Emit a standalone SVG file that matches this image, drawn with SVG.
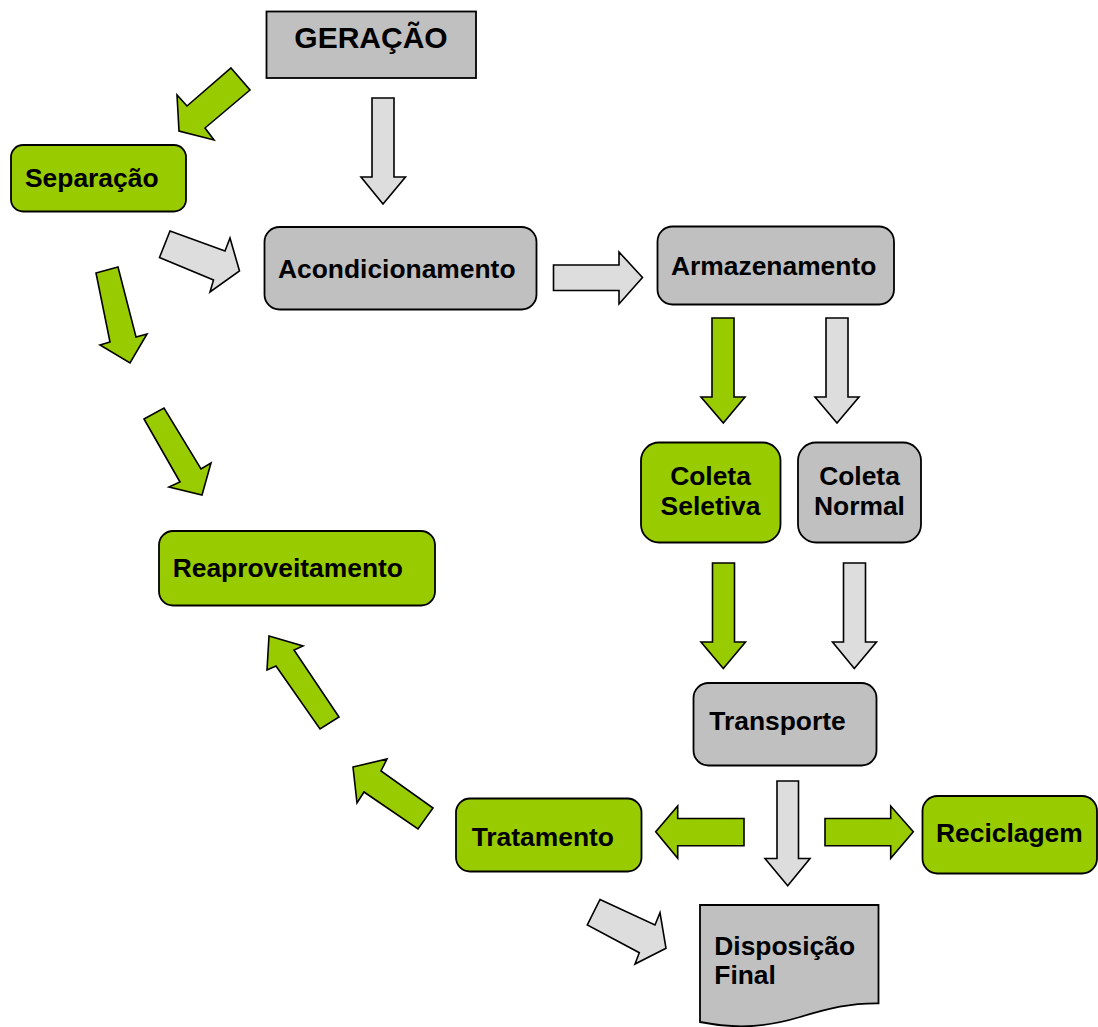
<svg xmlns="http://www.w3.org/2000/svg" width="1098" height="1027" viewBox="0 0 1098 1027">
<style>
.g{fill:#99cc00;stroke:#000;stroke-width:1.8}
.n{fill:#c0c0c0;stroke:#000;stroke-width:1.8}
.ag{fill:#99cc00;stroke:#000;stroke-width:1.6;stroke-linejoin:miter}
.aw{fill:#dddddd;stroke:#000;stroke-width:1.6;stroke-linejoin:miter}
text{font-family:"Liberation Sans",Arial,sans-serif;font-weight:bold;font-size:26.4px;fill:#000}
</style>
<rect width="1098" height="1027" fill="#fff"/>
<g id="connectors">
<polygon class="ag" points="231,68 250,90 205,128 214,140 179,131 177,95 187,106"/>
<polygon class="aw" points="372,98 394,98 394,177 405.5,177 383,204 361,177 372,177"/>
<polygon class="aw" points="170,231 225,251 230,238 239.5,271 210,292 213.5,280 159.5,257.5"/>
<polygon class="ag" points="96,273 118,267 136,337 147,334 130,363 100,345 110,342"/>
<polygon class="ag" points="144,419 164,408 201,469 211,463 202,495 169,487 180,482"/>
<polygon class="aw" points="553.5,265 619,265 619,252 642.5,277.5 619,304 619,290.5 553.5,290.5"/>
<polygon class="ag" points="712,318 734,318 734,397 745,397 723.3,423 701,397 712,397"/>
<polygon class="aw" points="826,318 848,318 848,397 859,397 837,423 815,397 826,397"/>
<polygon class="ag" points="712.5,563 734.5,563 734.5,642 745.5,642 723.3,668.5 701,642 712.5,642"/>
<polygon class="aw" points="843.5,563 865.5,563 865.5,642 876.5,642 854.3,668.5 832.5,642 843.5,642"/>
<polygon class="aw" points="777,781 798.5,781 798.5,858.5 810,858.5 787.7,885.7 765,858.5 777,858.5"/>
<polygon class="ag" points="744,818.5 677.7,818.5 677.7,806 655.7,831.7 677.7,858.3 677.7,845.7 744,845.7"/>
<polygon class="ag" points="825,818.5 890.7,818.5 890.7,806 913.3,831.7 890.7,858.3 890.7,845.7 825,845.7"/>
<polygon class="ag" points="269,636 303,646 294,650 339,717 320,729 276,666 267,670"/>
<polygon class="ag" points="353,767 387,759 381,771 433,808 418,829 364,792 357,803"/>
<polygon class="aw" points="600,899.5 655,925 660,912.7 666,948.3 635,964 639.3,952.7 587.3,925"/>
</g>
<g id="geracao">
<rect class="n" x="266.5" y="11.5" width="209.5" height="66.5"/>
<text x="371" y="48" text-anchor="middle" style="font-size:30px">GERAÇÃO</text>
</g>
<g id="separacao">
<rect class="g" x="11" y="145" width="175" height="66.5" rx="12"/>
<text x="25" y="186.7">Separação</text>
</g>
<g id="acondicionamento">
<rect class="n" x="264.5" y="227" width="272" height="82.5" rx="15"/>
<text x="278" y="277.7">Acondicionamento</text>
</g>
<g id="armazenamento">
<rect class="n" x="657.5" y="226.5" width="236.5" height="78" rx="15"/>
<text x="671" y="275">Armazenamento</text>
</g>
<g id="coleta-seletiva">
<rect class="g" x="641" y="442.5" width="139.5" height="100" rx="18"/>
<text x="710.5" y="485" text-anchor="middle">Coleta</text>
<text x="710.5" y="515" text-anchor="middle">Seletiva</text>
</g>
<g id="coleta-normal">
<rect class="n" x="798" y="442.5" width="123" height="100" rx="18"/>
<text x="859.5" y="485" text-anchor="middle">Coleta</text>
<text x="859.5" y="515" text-anchor="middle">Normal</text>
</g>
<g id="reaproveitamento">
<rect class="g" x="159" y="531" width="276" height="74.5" rx="14"/>
<text x="172.7" y="576.7">Reaproveitamento</text>
</g>
<g id="transporte">
<rect class="n" x="693.5" y="683" width="183" height="82.5" rx="15"/>
<text x="709.3" y="730">Transporte</text>
</g>
<g id="tratamento">
<rect class="g" x="456" y="798.5" width="185.5" height="73" rx="14"/>
<text x="471.7" y="846">Tratamento</text>
</g>
<g id="reciclagem">
<rect class="g" x="922.5" y="796" width="174.5" height="77.5" rx="15"/>
<text x="936" y="841.7">Reciclagem</text>
</g>
<g id="disposicao-final">
<path class="n" d="M700,905 H878.5 V1003.3 C850,1003 830,1008 800,1017 C770,1026 740,1030 700,1022 Z"/>
<text x="714.3" y="955">Disposição</text>
<text x="714.3" y="984.3">Final</text>
</g>
</svg>
